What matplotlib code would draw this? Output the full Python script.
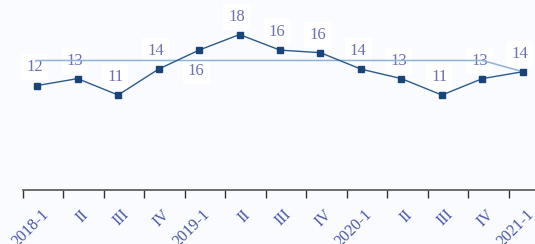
import matplotlib.pyplot as plt

quarters = ['2018-1', 'II', 'III', 'IV', '2019-1', 'II', 'III', 'IV',
            '2020-1', 'II', 'III', 'IV', '2021-1']
values = [12.1, 12.9, 11.0, 14.0, 16.2, 18.0, 16.2, 15.9, 14.0, 12.9, 11.0, 12.9, 13.7]
labels = ['12', '13', '11', '14', '16', '18', '16', '16', '14', '13', '11', '13', '14']
reference = [15.0] * 12 + [13.7]

bg = '#f9fbfe'
label_col = '#6c70b4'
tick_col = '#4a56a6'

plt.rcParams['font.family'] = ['Liberation Serif', 'DejaVu Serif']

fig = plt.figure(figsize=(5.35, 2.44), dpi=100, facecolor=bg)
ax = fig.add_axes([0.043, 0.221, 0.957, 0.779], facecolor=bg)

x = list(range(len(values)))
ax.plot(x, reference, color='#8db3d8', linewidth=1.1, zorder=3)
ax.plot(x, values, color='#2c5a8c', linewidth=1.0, marker='s', markersize=4.5,
        markerfacecolor='#1a4478', markeredgecolor='#1a4478', zorder=4)

for i, (v, t) in enumerate(zip(values, labels)):
    below = (i == 4)
    ax.annotate(t, (i, v), xytext=(-2, -15 if below else 13), textcoords='offset points',
                ha='center', va='center', fontsize=12, color=label_col, zorder=2,
                bbox=dict(boxstyle='square,pad=0.3', fc='white', ec='none'))

ax.set_xlim(-0.35, 12.3)
ax.set_ylim(0, 22)

ax.set_xticks([i - 0.35 for i in x])
ax.set_xticklabels([])
ax.set_xticks([i + 0.08 for i in x], minor=True)
ax.set_xticklabels(quarters, minor=True, rotation=45, ha='right', va='top',
                   rotation_mode='anchor', fontsize=11.5, color=tick_col)
ax.tick_params(axis='x', which='major', length=6, width=1.0, color='#333333', direction='out')
ax.tick_params(axis='x', which='minor', length=0, pad=12)
ax.set_yticks([])

for s in ['top', 'right', 'left']:
    ax.spines[s].set_visible(False)
ax.spines['bottom'].set_color('#555555')
ax.spines['bottom'].set_linewidth(1.2)

fig.savefig('out.png', dpi=100, facecolor=bg)
